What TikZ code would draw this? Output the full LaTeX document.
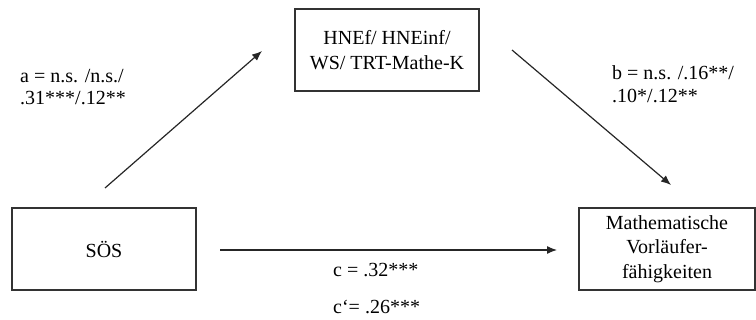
\documentclass[tikz,border=0pt]{standalone}
\usepackage{fontspec}
\setmainfont{Liberation Serif}
\usetikzlibrary{arrows.meta}
\begin{document}
\begin{tikzpicture}[x=1pt,y=-1pt,
  every node/.style={font=\fontsize{20}{24.5}\selectfont, inner sep=0pt},
  varbox/.style={draw=black!80, line width=1.3pt, minimum height=82pt, align=center},
  path/.style={draw=black!85, line width=1.2pt, -{Latex[length=10pt,width=8pt]}},
  coef/.style={align=left, anchor=west, font=\fontsize{20}{22.5}\selectfont}]
  \useasboundingbox (0,0) rectangle (756,320);
  % variables
  \node[varbox, minimum width=184pt] (med) at (387,50) {HNEf/ HNEinf/\\WS/ TRT-Mathe-K};
  \node[varbox, minimum width=184pt] (ses) at (104,249) {SÖS};
  \node[varbox, minimum width=176pt] (out) at (667,249) {Mathematische\\Vorläufer-\\fähigkeiten};
  % path end points
  \coordinate (a0) at (105,188);
  \coordinate (a1) at (262,51);
  \coordinate (b0) at (512,50);
  \coordinate (b1) at (671,185);
  \coordinate (c0) at (220,250);
  \coordinate (c1) at (557,250);
  \draw[path] (a0) -- (a1);
  \draw[path] (b0) -- (b1);
  \draw[path] (c0) -- (c1);
  % coefficients
  \node[coef] (la) at (20,87) {a = n.s. /n.s./\\.31***/.12**};
  \node[coef] (lb) at (612,84) {b = n.s. /.16**/\\.10*/.12**};
  \node[anchor=west] (lc) at (333,270) {c = .32***};
  \node[anchor=west] (lc2) at (333,307) {c‘= .26***};
\end{tikzpicture}
\end{document}
